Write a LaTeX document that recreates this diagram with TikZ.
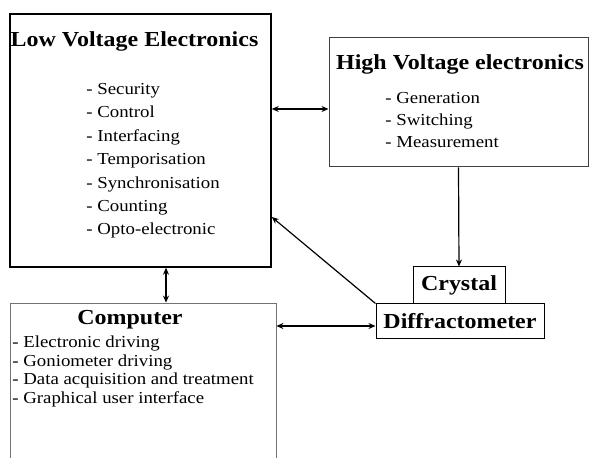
\documentclass[tikz,border=0pt]{standalone}
\usepackage{fontspec}
\setmainfont{Liberation Serif}[FakeStretch=1.12]
\usepackage{tikz}
\usetikzlibrary{arrows.meta,positioning}

\begin{document}
\begin{tikzpicture}[x=0.5pt, y=-0.5pt,
    box/.style={draw, line width=0.6pt, inner sep=0pt},
    boxtitle/.style={font=\fontsize{10.7}{12}\selectfont\bfseries, inner sep=0pt},
    itemlist/.style={align=left, inner sep=0pt, anchor=north west},
    dbl/.style={{Stealth[length=3.5pt,width=3pt]}-{Stealth[length=3.5pt,width=3pt]}, line width=0.6pt},
    arr/.style={-{Stealth[length=3.5pt,width=3pt]}, line width=0.6pt}]
    \useasboundingbox (0,0) rectangle (590,458);

    \node[box, line width=0.75pt, minimum width=130.5pt, minimum height=126.5pt] (lv) at (140.5,140.5) {};
    \node[boxtitle, anchor=base] (lvtitle) at (134.5,47) {Low Voltage Electronics};
    \node[itemlist, font=\fontsize{8.4}{11.7}\selectfont] (lvlist) at (86,83) {
      - Security\\
      - Control\\
      - Interfacing\\
      - Temporisation\\
      - Synchronisation\\
      - Counting\\
      - Opto-electronic
    };

    \node[box, line width=0.5pt, draw=black!75, minimum width=129.5pt, minimum height=64.5pt] (hv) at (458.5,102.5) {};
    \node[boxtitle, anchor=base] (hvtitle) at (460,70) {High Voltage electronics};
    \node[itemlist, font=\fontsize{8.4}{11}\selectfont] (hvlist) at (385,91.6) {
      - Generation\\
      - Switching\\
      - Measurement
    };

    \node[box, line width=0.5pt, boxtitle, minimum width=46pt, minimum height=18.5pt] (crystal) at (459,285.5) {Crystal};
    \node[box, line width=0.5pt, boxtitle, minimum width=84pt, minimum height=17.5pt] (diff) at (460,321.5) {Diffractometer};

    \node[box, line width=0.4pt, draw=black!55, minimum width=133pt, minimum height=86pt] (comp) at (143,389) {};
    \node[boxtitle, anchor=base] (comptitle) at (130,325) {Computer};
    \node[itemlist, font=\fontsize{8.4}{9.3}\selectfont] (complist) at (12,335.6) {
      - Electronic driving\\
      - Goniometer driving\\
      - Data acquisition and treatment\\
      - Graphical user interface
    };

    \draw[dbl] ([yshift=-3.25pt]hv.west) -- ([yshift=-3.25pt]hv.west -| lv.east);
    \draw[arr] (hv.south) -- (crystal.north);
    \draw[dbl] ([xshift=12.75pt]lv.south) -- ([xshift=12.75pt]lv.south |- comp.north);
    \draw[arr] (diff.north west) -- ([yshift=-38.25pt]lv.east);
    \draw[dbl] ([yshift=-2.25pt]diff.west) -- ([yshift=-2.25pt]diff.west -| comp.east);
\end{tikzpicture}
\end{document}
